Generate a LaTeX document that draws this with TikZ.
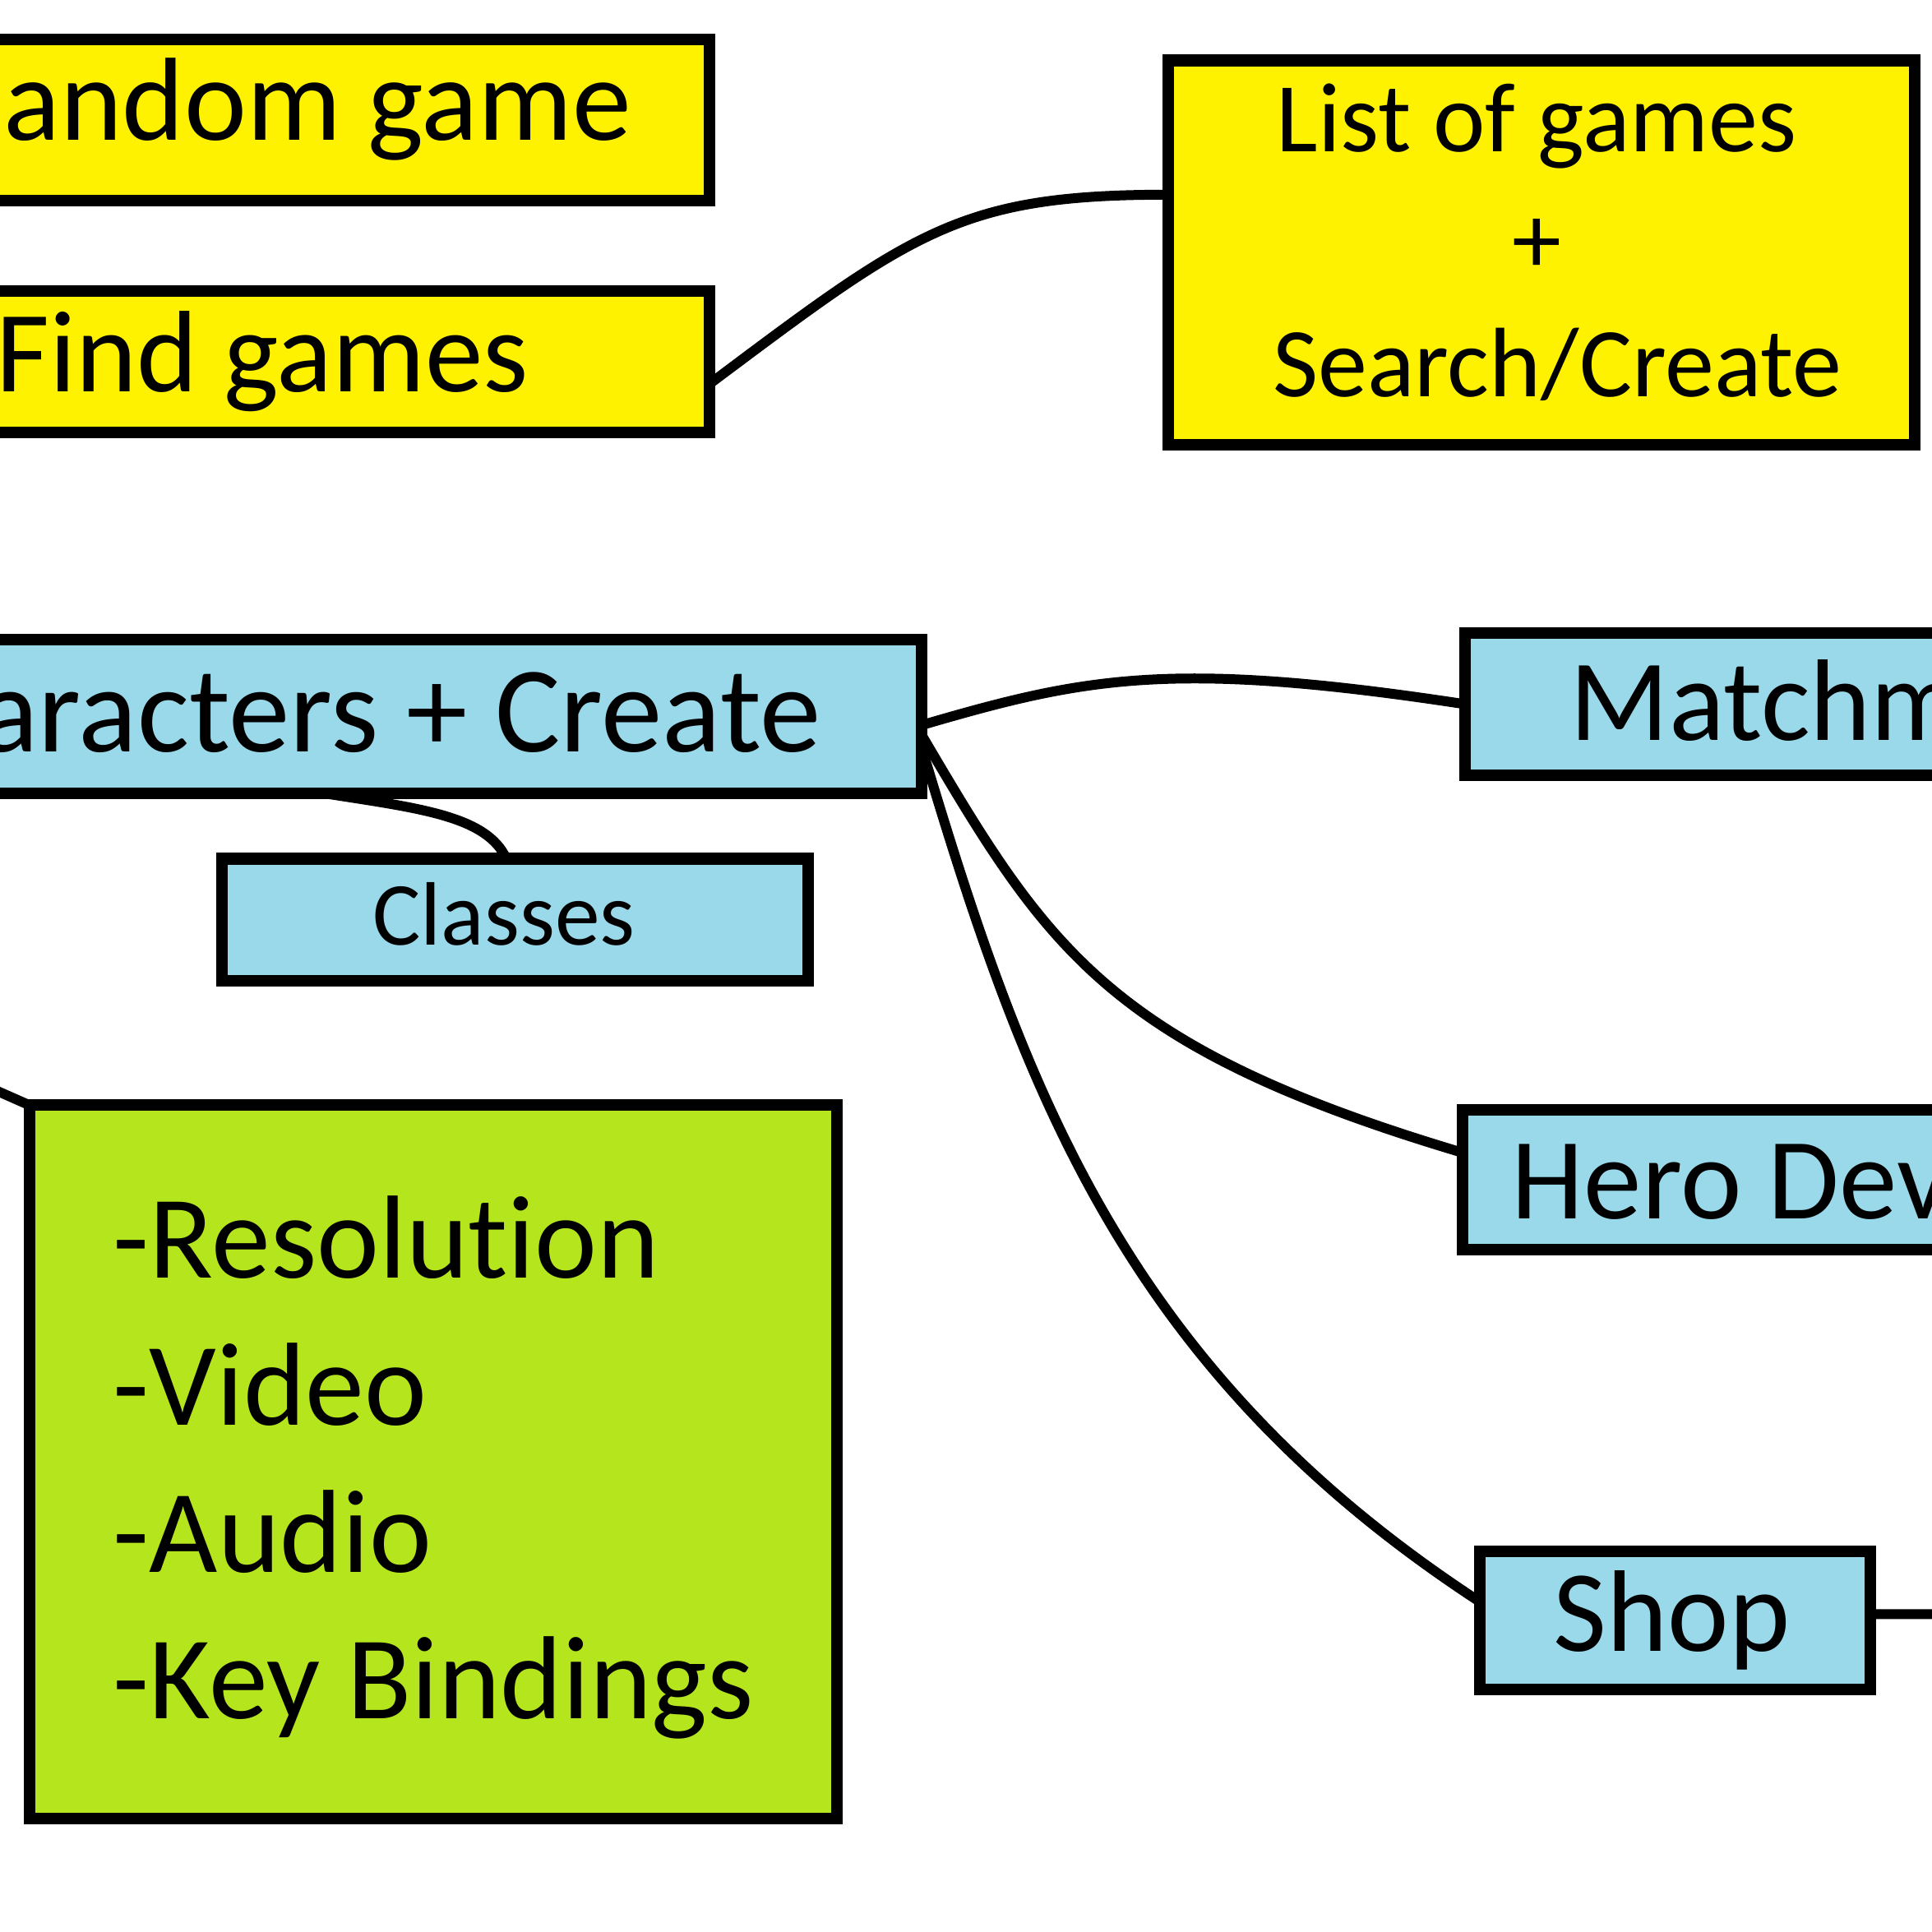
\documentclass[tikz,border=0pt]{standalone}
\usepackage{fontspec}
\setmainfont{Carlito}[Ligatures={CommonOff,ContextualOff,RareOff}]
\definecolor{ppyellow}{RGB}{255,242,0}
\definecolor{ppblue}{RGB}{153,217,234}
\definecolor{pplime}{RGB}{181,230,29}
\begin{document}
\begin{tikzpicture}[x=1cm,y=-1cm,
  box/.style={draw=black, line width=0.095cm, inner sep=0pt, outer sep=0pt},
  ybox/.style={box, fill=ppyellow},
  bbox/.style={box, fill=ppblue},
  gbox/.style={box, fill=pplime},
  conn/.style={draw=black, line width=0.08cm},
  lbl/.style={inner sep=0pt, outer sep=0pt, anchor=base west, text=black},
  big/.style={font=\fontsize{26.8}{30}\selectfont},
  bigger/.style={font=\fontsize{27.3}{30}\selectfont},
  mid/.style={font=\fontsize{22.8}{26}\selectfont},
  small/.style={font=\fontsize{20.8}{24}\selectfont},
]
\useasboundingbox (0,0) rectangle (15.68,15.68);
\clip (0,0) rectangle (15.68,15.68);
\fill[white] (0,0) rectangle (15.68,15.68);

% boxes
\node[ybox, minimum width=6.26cm, minimum height=1.31cm] (rand) at (2.63,0.975) {};
\node[ybox, minimum width=6.26cm, minimum height=1.15cm] (find) at (2.63,2.935) {};
\node[ybox, minimum width=6.06cm, minimum height=3.12cm] (list) at (12.51,2.05) {};
\node[bbox, minimum width=7.98cm, minimum height=1.25cm] (chars) at (3.49,5.815) {};
\node[bbox, minimum width=4.76cm, minimum height=0.99cm] (classes) at (4.18,7.465) {};
\node[bbox, minimum width=4.31cm, minimum height=1.15cm] (match) at (14.045,5.715) {};
\node[bbox, minimum width=4.33cm, minimum height=1.13cm] (hero) at (14.035,9.575) {};
\node[bbox, minimum width=3.17cm, minimum height=1.12cm] (shop) at (13.595,13.15) {};
\node[gbox, minimum width=6.55cm, minimum height=5.79cm] (set) at (3.515,11.865) {};

% texts
\node[lbl, bigger] (randt) at (0.03,1.14) {andom game};
\node[lbl, big] (findt) at (-0.03,3.18) {Find games};
\node[lbl, mid] (list1) at (10.36,1.23) {List of games};
\node[inner sep=0pt, mid] (list2) at (12.47,2.0) {+};
\node[lbl, mid] (list3) at (10.33,3.22) {Search/Create};
\node[lbl, font=\fontsize{28.3}{30}\selectfont, anchor=base east] (charst) at (6.66,6.10) {aracters + Create};
\node[lbl, small, anchor=base] (classest) at (4.09,7.67) {Classes};
\node[lbl, big] (matcht) at (12.74,6.01) {Matchm};
\node[lbl, big] (herot) at (12.27,9.89) {Hero Dev};
\node[lbl, big, anchor=base] (shopt) at (13.57,13.40) {Shop};
\node[lbl, bigger] (s1) at (0.92,10.37) {-Resolution};
\node[lbl, bigger] (s2) at (0.92,11.565) {-Video};
\node[lbl, bigger] (s3) at (0.92,12.76) {-Audio};
\node[lbl, bigger] (s4) at (0.92,13.95) {-Key Bindings};

% connectors
\coordinate (sin) at (-0.1,8.82);
\coordinate (sout) at (15.9,13.1);
\draw[conn] ([yshift=-0.18cm]find.east) .. controls (7.42,1.87) and (7.80,1.58) .. ([yshift=0.47cm]list.west);
\draw[conn] ([yshift=-0.07cm]chars.east) .. controls (8.8,5.5) and (9.5,5.35) .. (match.west);
\draw[conn] ([yshift=-0.15cm]chars.east) .. controls (8.5,7.7) and (9.0,8.5) .. ([yshift=0.22cm]hero.west);
\draw[conn] ([yshift=-0.25cm]chars.east) .. controls (8.3,8.8) and (9.1,11.1) .. ([yshift=0.15cm]shop.west);
\draw[conn] ([xshift=-0.85cm]chars.south) .. controls (3.4,6.56) and (3.95,6.62) .. ([xshift=-0.07cm]classes.north);
\draw[conn] (sin) -- (set.north west);
\draw[conn] ([yshift=0.05cm]shop.east) -- (sout);
\end{tikzpicture}
\end{document}
